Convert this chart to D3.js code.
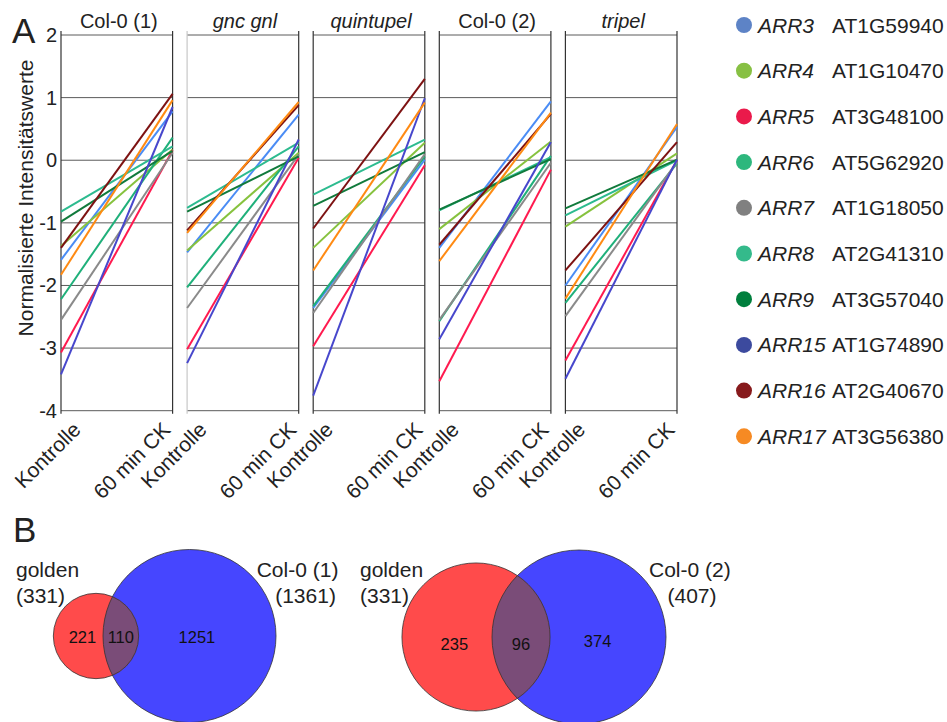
<!DOCTYPE html>
<html><head><meta charset="utf-8">
<script src="https://cdn.jsdelivr.net/npm/d3@7"></script>
<style>
html,body{margin:0;padding:0;background:#fff;}
svg{display:block;font-family:"Liberation Sans",Arial,sans-serif;}
</style></head>
<body>
<svg id="c" width="947" height="722"></svg>
<script>
// ---------- DATA ----------
const panels = ["Col-0 (1)", "gnc gnl", "quintupel", "Col-0 (2)", "tripel"];
const panelItalic = [false, true, true, false, true];
const conditions = ["Kontrolle", "60 min CK"];
const genes = ["ARR3","ARR4","ARR5","ARR6","ARR7","ARR8","ARR9","ARR15","ARR16","ARR17"];
const agiCodes = ["AT1G59940","AT1G10470","AT3G48100","AT5G62920","AT1G18050","AT2G41310","AT3G57040","AT1G74890","AT2G40670","AT3G56380"];
const lineColors = ["#4a8cf5","#86c23e","#ff1a4f","#1fb07a","#8a8a8a","#2dbb8f","#117a3c","#4747cc","#7d1212","#ff8a12"];
const legendColors = ["#5d83c6","#87c043","#ea1a4b","#2db77d","#808080","#34ba8b","#007f3d","#3c4a9e","#871a1c","#f68a23"];
const yTicks = [-4,-3,-2,-1,0,1,2];

// values per panel, gene order as in `genes`
const col01Kontrolle   = [-1.59,-1.37,-3.07,-2.22,-2.55,-0.82,-0.98,-3.42,-1.40,-1.83];
const col01CK          = [ 0.78, 0.17, 0.16, 0.36, 0.12, 0.22, 0.15, 0.85, 1.06, 0.96];
const gncKontrolle     = [-1.47,-1.44,-3.02,-2.03,-2.36,-0.76,-0.82,-3.24,-1.12,-1.16];
const gncCK            = [ 0.73, 0.12, 0.04, 0.22, 0.09, 0.28, 0.06, 0.33, 0.88, 0.93];
const quintKontrolle   = [-2.36,-1.40,-2.97,-2.33,-2.44,-0.55,-0.73,-3.76,-1.09,-1.76];
const quintCK          = [ 0.01, 0.28,-0.08, 0.06, 0.10, 0.33, 0.13, 0.99, 1.30, 0.92];
const col02Kontrolle   = [-1.40,-1.10,-3.53,-2.57,-2.55,-0.80,-0.79,-2.86,-1.35,-1.61];
const col02CK          = [ 0.94, 0.30,-0.15, 0.07,-0.04, 0.05, 0.02, 0.29, 0.74, 0.76];
const tripelKontrolle  = [-2.00,-1.06,-3.20,-2.28,-2.49,-0.88,-0.77,-3.49,-1.76,-2.21];
const tripelCK         = [ 0.53, 0.11, 0.00,-0.05,-0.03, 0.00, 0.01, 0.01, 0.29, 0.58];
const panelKontrolle = [col01Kontrolle, gncKontrolle, quintKontrolle, col02Kontrolle, tripelKontrolle];
const panelCK = [col01CK, gncCK, quintCK, col02CK, tripelCK];

// Venn data
const vennLeftSets = ["golden", "Col-0 (1)"];
const vennLeftTotals = [331, 1361];
const vennLeftParts = [221, 110, 1251];
const vennRightSets = ["golden", "Col-0 (2)"];
const vennRightTotals = [331, 407];
const vennRightParts = [235, 96, 374];

// ---------- DRAW ----------
const svg = d3.select("#c");
const FONT = "Liberation Sans, Arial, sans-serif";

const px = d3.scaleBand().domain(panels).range([61, 677]).paddingInner(0.115).paddingOuter(0);
const y = d3.scaleLinear().domain([-4, 2]).range([410.7, 35]);

// panel letters
svg.append("text").attr("x", 12).attr("y", 43).attr("font-size", 35).attr("fill", "#222").text("A");
svg.append("text").attr("x", 13).attr("y", 542).attr("font-size", 35).attr("fill", "#222").text("B");

// y title
svg.append("text").attr("transform", `translate(33,198) rotate(-90)`)
  .attr("text-anchor", "middle").attr("font-size", 21).attr("fill", "#222")
  .attr("textLength", 277).attr("lengthAdjust", "spacingAndGlyphs")
  .text("Normalisierte Intensitätswerte");

// y axis labels
const yAxis = d3.axisLeft(y).tickValues(yTicks).tickSize(0).tickPadding(4).tickFormat(d => String(d));
const ya = svg.append("g").attr("transform", `translate(${px(panels[0])},0)`).call(yAxis);
ya.select(".domain").remove();
ya.selectAll("text").attr("font-size", 20).attr("font-family", FONT).attr("fill", "#222");

panels.forEach((p, i) => {
  const x0 = px(p), w = px.bandwidth();
  const xs = d3.scalePoint().domain(conditions).range([x0, x0 + w]);
  const g = svg.append("g");
  // grid
  g.selectAll("line.grid").data(yTicks).join("line")
    .attr("x1", x0).attr("x2", x0 + w).attr("y1", d => y(d)).attr("y2", d => y(d))
    .attr("stroke", "#5a5a5a").attr("stroke-width", 1);
  // verticals
  g.selectAll("line.v").data(conditions).join("line")
    .attr("x1", d => xs(d)).attr("x2", d => xs(d))
    .attr("y1", y(2) - 4).attr("y2", y(-4) + 3)
    .attr("stroke", (d, j) => (i === 1 && j === 0) ? "#c8c8c8" : "#333")
    .attr("stroke-width", 1.2);
  // title
  svg.append("text").attr("x", x0 + w / 2 + 2).attr("y", 28).attr("text-anchor", "middle")
    .attr("font-size", 20).attr("fill", "#222")
    .attr("font-style", panelItalic[i] ? "italic" : "normal").text(p);
  // lines
  const line = d3.line().x(d => xs(d.c)).y(d => y(d.v));
  genes.forEach((gname, k) => {
    const pts = [{c: conditions[0], v: panelKontrolle[i][k]}, {c: conditions[1], v: panelCK[i][k]}];
    g.append("path").attr("d", line(pts)).attr("fill", "none")
      .attr("stroke", lineColors[k]).attr("stroke-width", 2);
  });
  // x labels
  conditions.forEach((c, j) => {
    const ax = j === 0 ? xs(c) + 21 : xs(c) - 1;
    svg.append("text").attr("transform", `translate(${ax},431) rotate(-45)`)
      .attr("text-anchor", "end").attr("font-size", 21).attr("fill", "#222").text(c);
  });
});

// legend
const leg = svg.append("g");
genes.forEach((gname, k) => {
  const cy = 25 + k * 45.7;
  leg.append("circle").attr("cx", 744).attr("cy", cy).attr("r", 8).attr("fill", legendColors[k]);
  leg.append("text").attr("x", 758).attr("y", cy + 7.5).attr("font-size", 21).attr("font-style", "italic")
    .attr("fill", "#222").text(gname);
  leg.append("text").attr("x", 832).attr("y", cy + 7.5).attr("font-size", 21).attr("fill", "#222").text(agiCodes[k]);
});

// Venn diagrams
function venn(opts) {
  const {sets, totals, parts, redX, dist, cy, maxR, exponent, labelLeftX, labelRightX, dy, id} = opts;
  const r = d3.scalePow().exponent(exponent).domain([0, d3.max(totals)]).range([0, maxR]);
  const r1 = r(totals[0]), r2 = r(totals[1]);
  const c1 = redX, c2 = redX + dist;
  const g = svg.append("g");
  g.append("clipPath").attr("id", id).append("circle").attr("cx", c2).attr("cy", cy).attr("r", r2);
  g.append("circle").attr("cx", c2).attr("cy", cy).attr("r", r2).attr("fill", "#4646ff");
  g.append("circle").attr("cx", c1).attr("cy", cy).attr("r", r1).attr("fill", "#ff4b4b");
  g.append("circle").attr("cx", c1).attr("cy", cy).attr("r", r1).attr("clip-path", `url(#${id})`).attr("fill", "#7a4c78");
  g.append("circle").attr("cx", c2).attr("cy", cy).attr("r", r2).attr("fill", "none").attr("stroke", "#333").attr("stroke-width", 0.8);
  g.append("circle").attr("cx", c1).attr("cy", cy).attr("r", r1).attr("fill", "none").attr("stroke", "#333").attr("stroke-width", 0.8);
  const redL = c1 - r1, redR = c1 + r1, bluL = c2 - r2, bluR = c2 + r2;
  const xsPos = [(redL + bluL) / 2 + 0.1 * r1, (bluL + redR) / 2, (redR + bluR) / 2 - 0.12 * r2];
  parts.forEach((v, i) => {
    g.append("text").attr("x", xsPos[i]).attr("y", cy + dy[i]).attr("text-anchor", "middle")
      .attr("font-size", 16.5).attr("fill", "#111").text(v);
  });
  g.append("text").attr("x", labelLeftX).attr("y", 577).attr("font-size", 21).attr("fill", "#222").text(sets[0]);
  g.append("text").attr("x", labelLeftX).attr("y", 603).attr("font-size", 21).attr("fill", "#222").text(`(${totals[0]})`);
  g.append("text").attr("x", labelRightX).attr("y", 577).attr("font-size", 21).attr("fill", "#222").text(sets[1]);
  g.append("text").attr("x", labelRightX + 18.5).attr("y", 603).attr("font-size", 21).attr("fill", "#222").text(`(${totals[1]})`);
}
venn({sets: vennLeftSets, totals: vennLeftTotals, parts: vennLeftParts, redX: 96, dist: 93.5, cy: 636,
      maxR: 86.5, exponent: 0.5, labelLeftX: 16, labelRightX: 256.7, dy: [7, 7, 7], id: "clipL"});
venn({sets: vennRightSets, totals: vennRightTotals, parts: vennRightParts, redX: 476, dist: 103, cy: 637,
      maxR: 87, exponent: 0.78, labelLeftX: 360, labelRightX: 649, dy: [13, 13, 10], id: "clipR"});
</script>
</body></html>
